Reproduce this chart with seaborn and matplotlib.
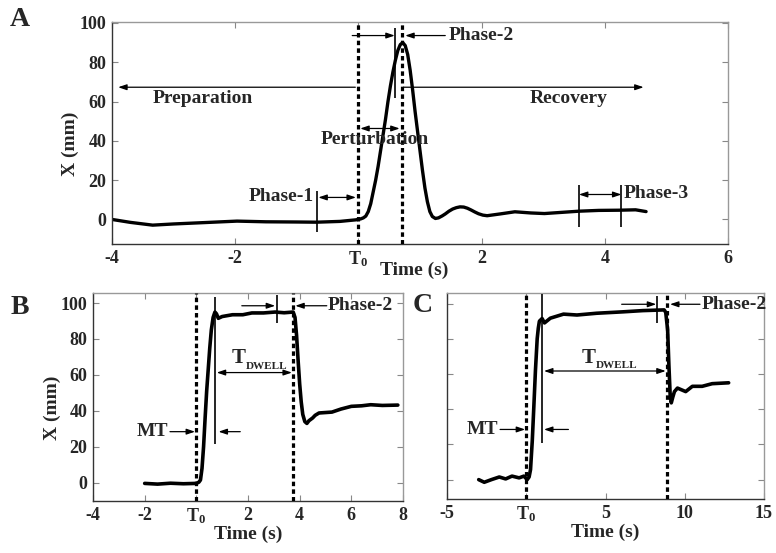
import matplotlib
matplotlib.use("Agg")
import matplotlib.pyplot as plt
import seaborn as sns

# ---- data ----
# panel A: single perturbation trace
a_time = [-4.0, -3.7, -3.34, -3.0, -2.5, -1.97, -1.5, -1.0, -0.68, -0.3, -0.04, 0.04, 0.08,
          0.12, 0.16, 0.20, 0.24, 0.28, 0.32, 0.36, 0.40, 0.44, 0.48, 0.52, 0.56, 0.60, 0.64,
          0.68, 0.72, 0.76, 0.80, 0.84, 0.88, 0.92, 0.96, 1.00, 1.04, 1.08, 1.12, 1.16, 1.20,
          1.25, 1.30, 1.36, 1.41, 1.47, 1.53, 1.59, 1.65, 1.71, 1.77, 1.83, 1.89, 1.95, 2.02,
          2.09, 2.3, 2.54, 2.8, 3.02, 3.3, 3.58, 3.9, 4.23, 4.5, 4.67]
a_x = [0.0, -1.5, -2.9, -2.3, -1.6, -0.85, -1.2, -1.3, -1.4, -1.0, -0.2, 0.3, 0.8, 1.7, 4,
       8, 14, 20, 27, 35, 43, 51, 60, 68, 75, 81, 86, 89, 90, 88.5, 84, 76, 66, 55, 45, 35,
       25, 16, 9, 4, 1.5, 0.5, 0.8, 1.8, 2.8, 4.2, 5.3, 6.0, 6.4, 6.3, 5.7, 4.8, 3.8, 2.9,
       2.2, 1.9, 2.8, 3.9, 3.3, 3.0, 3.6, 4.2, 4.6, 4.7, 4.9, 4.0]

# panel B: short dwell
b_time = [-2.0, -1.5, -1.0, -0.5, 0.0, 0.1, 0.16, 0.22, 0.28, 0.34, 0.4, 0.46, 0.52, 0.58,
          0.65, 0.72, 0.78, 0.85, 1.0, 1.4, 1.8, 2.15, 2.6, 3.05, 3.4, 3.75, 3.82, 3.88,
          3.94, 4.0, 4.06, 4.12, 4.2, 4.28, 4.36, 4.5, 4.6, 4.75, 5.25, 5.6, 6.0, 6.4, 6.75,
          7.2, 7.8]
b_x = [-0.4, -0.8, -0.3, -0.6, -0.4, 0.3, 1.5, 8, 20, 36, 51, 63, 75, 85, 92, 95, 94,
       91.5, 92.5, 93.5, 93.5, 94.5, 94.5, 95, 94.6, 95, 92, 82, 68, 55, 45, 38, 34, 33,
       34.5, 36, 37.5, 38.8, 39.3, 41, 42.5, 42.8, 43.4, 43, 43.2]

# panel C: long dwell
c_time = [-3.0, -2.65, -2.2, -1.7, -1.3, -0.9, -0.45, -0.15, 0.06, 0.18, 0.27, 0.38, 0.48,
          0.58, 0.69, 0.76, 0.83, 1.0, 1.15, 1.52, 2.35, 3.2, 4.44, 6.1, 7.35, 8.7, 8.8,
          8.92, 9.0, 9.08, 9.15, 9.25, 9.35, 9.54, 10.06, 10.48, 11.1, 11.73, 12.77]
c_x = [0, -1.5, 0, 1.5, 0.4, 2, 1, 2, 0, 1.5, 5.7, 22, 41.7, 62, 80, 86, 90, 91.5, 89,
       91.7, 94, 93.5, 94.5, 95.3, 96, 96.4, 95, 85, 65, 48, 43.6, 47, 50, 52, 50, 53, 53,
       54.5, 55]

# event times (dashed lines) per panel
a_events = [0.0, 0.70]
b_events = [0.0, 3.76]
c_events = [0.0, 8.86]

a_xticks = [-4, -2, 0, 2, 4, 6]
a_xticklabels = ["-4", "-2", r"T$_{0}$", "2", "4", "6"]
b_xticks = [-4, -2, 0, 2, 4, 6, 8]
b_xticklabels = ["-4", "-2", r"T$_{0}$", "2", "4", "6", "8"]
c_xticks = [-5, 0, 5, 10, 15]
c_xticklabels = ["-5", r"T$_{0}$", "5", "10", "15"]
yticks = [0, 20, 40, 60, 80, 100]

sns.set_style("ticks")
plt.rcParams["font.family"] = ["Liberation Serif", "DejaVu Serif"]
plt.rcParams["font.weight"] = "bold"
plt.rcParams["mathtext.fontset"] = "custom"
plt.rcParams["mathtext.rm"] = "Liberation Serif:bold"
plt.rcParams["mathtext.it"] = "Liberation Serif:bold"
plt.rcParams["mathtext.bf"] = "Liberation Serif:bold"

W, H = 776, 553
fig = plt.figure(figsize=(W / 100, H / 100), dpi=100)


def frac(l, t, r, b):
    return [l / W, 1 - b / H, (r - l) / W, (b - t) / H]


axA = fig.add_axes(frac(112, 22, 728, 244))
axB = fig.add_axes(frac(93, 293, 403, 501))
axC = fig.add_axes(frac(447, 293, 764, 499))


def style(ax, xlim, ylim, xticks, xlabels, show_y=True):
    ax.set_xlim(*xlim)
    ax.set_ylim(*ylim)
    ax.set_xticks(xticks, xlabels)
    ax.set_yticks(yticks, [str(v) for v in yticks] if show_y else [])
    ax.tick_params(direction="in", top=True, right=True, length=4, width=0.8,
                   color="#888888", labelsize=13, pad=4)
    for s in ["left", "bottom"]:
        ax.spines[s].set_color("#333333")
    for s in ["top", "right"]:
        ax.spines[s].set_color("#999999")
    for s in ax.spines.values():
        s.set_linewidth(1.0)
    ax.set_xlabel("Time (s)", fontsize=14, fontweight="bold")
    ax.xaxis.label.set_va("center")
    if show_y:
        ax.set_ylabel("X (mm)", fontsize=14, fontweight="bold")
        ax.yaxis.label.set_va("center")


def arrow(ax, x0, x1, y, style="-|>"):
    ax.annotate("", xy=(x1, y), xytext=(x0, y),
                arrowprops=dict(arrowstyle=style + ",head_length=0.5,head_width=0.17",
                                color="k", lw=0.9, shrinkA=0, shrinkB=0))


def dashed(ax, xs):
    for x in xs:
        ax.axvline(x, color="k", lw=2.3, ls=(0, (1.4, 1.0)), zorder=4)


def mark(ax, x, y0, y1):
    ax.vlines(x, y0, y1, color="k", lw=1.2, zorder=5)


def t_dwell(ax, x, y):
    ax.text(x, y, "T", fontsize=15, fontweight="bold", ha="center", va="baseline")
    ax.annotate("DWELL", xy=(x, y), xytext=(5, -4), textcoords="offset points",
                fontsize=8, fontweight="bold", ha="left", va="baseline")


txt = dict(fontsize=14, fontweight="bold", va="center")

# ---- panel A ----
sns.lineplot(x=a_time, y=a_x, ax=axA, color="k", lw=2.4, sort=False)
style(axA, (-4, 6), (-12.5, 100.5), a_xticks, a_xticklabels)
dashed(axA, a_events)
axA.xaxis.set_label_coords(0.49, -0.118)
axA.yaxis.set_label_coords(-0.068, 0.45)
# preparation / recovery
arrow(axA, -0.05, -3.9, 67.3)
arrow(axA, 0.73, 4.63, 67.3)
axA.text(-2.53, 61.5, "Preparation", ha="center", **txt)
axA.text(3.42, 61.5, "Recovery", ha="center", **txt)
# perturbation
arrow(axA, 0.03, 0.67, 46.3, "<|-|>")
axA.text(0.27, 40.5, "Perturbation", ha="center", zorder=6, **txt)
# phase 1
mark(axA, -0.67, -6.4, 14.4)
arrow(axA, -0.65, -0.04, 11.2, "<|-|>")
axA.text(-0.72, 11.8, "Phase-1", ha="right", **txt)
# phase 2
mark(axA, 0.6, 62, 97.5)
arrow(axA, -0.1, 0.59, 93.6)
arrow(axA, 1.41, 0.76, 93.6)
axA.text(1.47, 93.6, "Phase-2", ha="left", **txt)
# phase 3
mark(axA, 3.58, -3.9, 17.3)
mark(axA, 4.27, -3.9, 17.3)
arrow(axA, 3.58, 4.27, 12.7, "<|-|>")
axA.text(4.31, 13.2, "Phase-3", ha="left", **txt)

# ---- panel B ----
sns.lineplot(x=b_time, y=b_x, ax=axB, color="k", lw=2.6, sort=False)
style(axB, (-4, 8), (-10.2, 105.6), b_xticks, b_xticklabels)
dashed(axB, b_events)
axB.xaxis.set_label_coords(0.5, -0.16)
axB.yaxis.set_label_coords(-0.13, 0.45)
mark(axB, 0.73, 21.7, 103.5)
mark(axB, 3.12, 88.7, 104.4)
axB.text(-1.08, 28.4, "MT", ha="right", **txt)
arrow(axB, -1.02, -0.05, 28.4)
arrow(axB, 1.70, 0.86, 28.4)
arrow(axB, 0.79, 3.70, 61.3, "<|-|>")
t_dwell(axB, 1.64, 66.5)
arrow(axB, 1.76, 3.05, 98.5)
arrow(axB, 5.05, 3.83, 98.5)
axB.text(5.1, 98.5, "Phase-2", ha="left", **txt)

# ---- panel C ----
sns.lineplot(x=c_time, y=c_x, ax=axC, color="k", lw=2.6, sort=False)
style(axC, (-5, 15), (-11, 106), c_xticks, c_xticklabels, show_y=False)
dashed(axC, c_events)
axC.xaxis.set_label_coords(0.5, -0.16)
mark(axC, 1.01, 20.9, 105.3)
mark(axC, 8.23, 89.2, 104.4)
axC.text(-1.76, 28.5, "MT", ha="right", **txt)
arrow(axC, -1.65, -0.07, 28.5)
arrow(axC, 2.66, 1.12, 28.5)
arrow(axC, 1.12, 8.80, 61.7, "<|-|>")
t_dwell(axC, 3.96, 66.5)
arrow(axC, 6.02, 8.2, 99.6)
arrow(axC, 10.96, 9.07, 99.6)
axC.text(11.07, 99.6, "Phase-2", ha="left", **txt)

# panel letters
fig.text(20 / W, 1 - 20 / H, "A", fontsize=20, fontweight="bold", ha="center", va="center")
fig.text(20 / W, 1 - 307 / H, "B", fontsize=20, fontweight="bold", ha="center", va="center")
fig.text(423 / W, 1 - 306 / H, "C", fontsize=20, fontweight="bold", ha="center", va="center")

fig.savefig("out.png", dpi=100)
